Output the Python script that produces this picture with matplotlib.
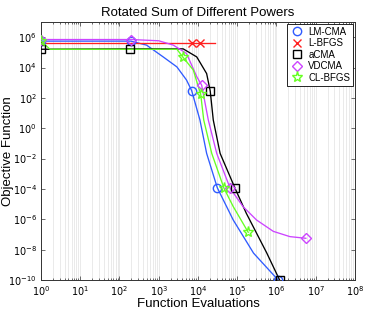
import matplotlib
matplotlib.use("Agg")
import matplotlib.pyplot as plt
import matplotlib.ticker as mticker
import numpy as np

title = "Rotated Sum of Different Powers"
xlabel = "Function Evaluations"
ylabel = "Objective Function"

# LM-CMA
lm_x = [1, 193, 490, 1300, 2900, 5100, 6900, 11200, 16600, 31000, 79000, 2.6e5, 1.1e6]
lm_y = [5.5e5, 5.5e5, 3e5, 5e4, 1.1e4, 1.5e3, 300, 3.5, 2.2e-2, 1.2e-4, 9e-7, 5.9e-9, 1e-10]
lm_mx = [1, 193, 6900, 31000, 1.1e6]
lm_my = [5.5e5, 5.5e5, 300, 1.2e-4, 1e-10]

# L-BFGS
lb_x = [1, 27000]
lb_y = [3.9e5, 3.9e5]
lb_mx = [6900, 11200]
lb_my = [3.9e5, 3.9e5]

# aCMA
ac_x = [1, 185, 4200, 9300, 16600, 20500, 24500, 36600, 88000, 1.7e5, 5.6e5, 1.2e6]
ac_y = [1.6e5, 1.7e5, 1.7e5, 5e4, 4e3, 280, 3.5, 2.2e-2, 1.1e-4, 2.5e-6, 6.3e-9, 1e-10]
ac_mx = [1, 185, 20500, 88000, 1.2e6]
ac_my = [1.6e5, 1.7e5, 280, 1.1e-4, 1e-10]

# VDCMA
vd_x = [1, 200, 1000, 2350, 5100, 9300, 12400, 18300, 30000, 66000, 1.4e5, 3.1e5, 8.3e5, 2.2e6, 5.6e6]
vd_y = [7e5, 7e5, 5.8e5, 3e5, 8.5e4, 2.5e3, 690, 3.5, 2.2e-2, 1.1e-4, 6.9e-6, 9e-7, 1.6e-7, 7.2e-8, 5.6e-8]
vd_mx = [1, 200, 12400, 66000, 5.6e6]
vd_my = [7e5, 7e5, 690, 1.1e-4, 5.6e-8]

# CL-BFGS
cl_x = [1, 1.7, 2900, 4100, 7600, 10200, 11700, 14000, 22400, 46000, 79000, 1.9e5]
cl_y = [5.7e5, 1.6e5, 1.6e5, 5e4, 6.8e3, 540, 180, 3.5, 2.2e-2, 1.1e-4, 6.9e-6, 1.4e-7]
cl_mx = [1, 4100, 11700, 46000, 1.9e5]
cl_my = [5.7e5, 5e4, 180, 1.1e-4, 1.4e-7]

x_exps = list(range(0, 9))
y_exps = list(range(-10, 7, 2))

c_lm = "#2f5bff"
c_lb = "#ff2020"
c_ac = "#000000"
c_vd = "#cc44ff"
c_cl = "#66ff22"

plt.rcParams['font.family'] = ['Liberation Sans', 'DejaVu Sans']
fig = plt.figure(figsize=(3.65, 3.10), dpi=100)
ax = fig.add_axes([0.1123, 0.0968, 0.8603, 0.8322])

series = [
    ("LM-CMA", lm_x, lm_y, lm_mx, lm_my, c_lm, "o"),
    ("L-BFGS", lb_x, lb_y, lb_mx, lb_my, c_lb, "x"),
    ("aCMA", ac_x, ac_y, ac_mx, ac_my, c_ac, "s"),
    ("VDCMA", vd_x, vd_y, vd_mx, vd_my, c_vd, "D"),
    ("CL-BFGS", cl_x, cl_y, cl_mx, cl_my, c_cl, "*"),
]
handles = []
for name, x, y, mx, my, c, m in series:
    ax.plot(x, y, color=c, lw=0.95, zorder=3)
    ms = 6 if m != "*" else 8
    if m == "D":
        ms = 5
    h, = ax.plot(mx, my, ls="none", marker=m, ms=ms, mfc="none", mec=c, mew=1.0, zorder=4, label=name)
    handles.append(h)

ax.set_xscale("log")
ax.set_yscale("log")
ax.set_xlim(1, 1e8)
ax.set_ylim(1e-10, 1e7)
ax.xaxis.set_major_locator(mticker.FixedLocator([10.0**k for k in x_exps]))
ax.xaxis.set_major_formatter(mticker.FixedFormatter([r"$10^{%d}$" % k for k in x_exps]))
minor = [s * 10.0**k for k in x_exps[:-1] for s in range(2, 10)]
ax.xaxis.set_minor_locator(mticker.FixedLocator(minor))
ax.xaxis.set_minor_formatter(mticker.NullFormatter())
ax.yaxis.set_major_locator(mticker.FixedLocator([10.0**k for k in y_exps]))
ax.yaxis.set_major_formatter(mticker.FixedFormatter([r"$10^{%d}$" % k for k in y_exps]))
ax.yaxis.set_minor_locator(mticker.NullLocator())
ax.grid(True, which="both", axis="x", color="#e6e6e6", lw=0.6, zorder=0)
ax.tick_params(which="both", direction="in", top=True, right=True, labelsize=7, width=0.5,
               colors="#333333", labelcolor="black")
ax.tick_params(which="major", length=3, pad=3)
ax.tick_params(which="minor", length=1.5)
for s in ax.spines.values():
    s.set_linewidth(0.7)
    s.set_color("#333333")

ax.set_title(title, fontsize=9.5, pad=4)
ax.set_xlabel(xlabel, fontsize=9.5)
ax.set_ylabel(ylabel, fontsize=9.5)
ax.xaxis.set_label_coords(0.5, -0.07)
ax.yaxis.set_label_coords(-0.086, 0.5)

leg = ax.legend(handles=handles, loc="upper right", fontsize=7, frameon=True, fancybox=False,
                edgecolor="black", framealpha=1, borderpad=0.3, labelspacing=0.15, handletextpad=0.4,
                handlelength=1.5, borderaxespad=0.2)
leg.get_frame().set_linewidth(0.6)

fig.savefig("out.png", dpi=100)
